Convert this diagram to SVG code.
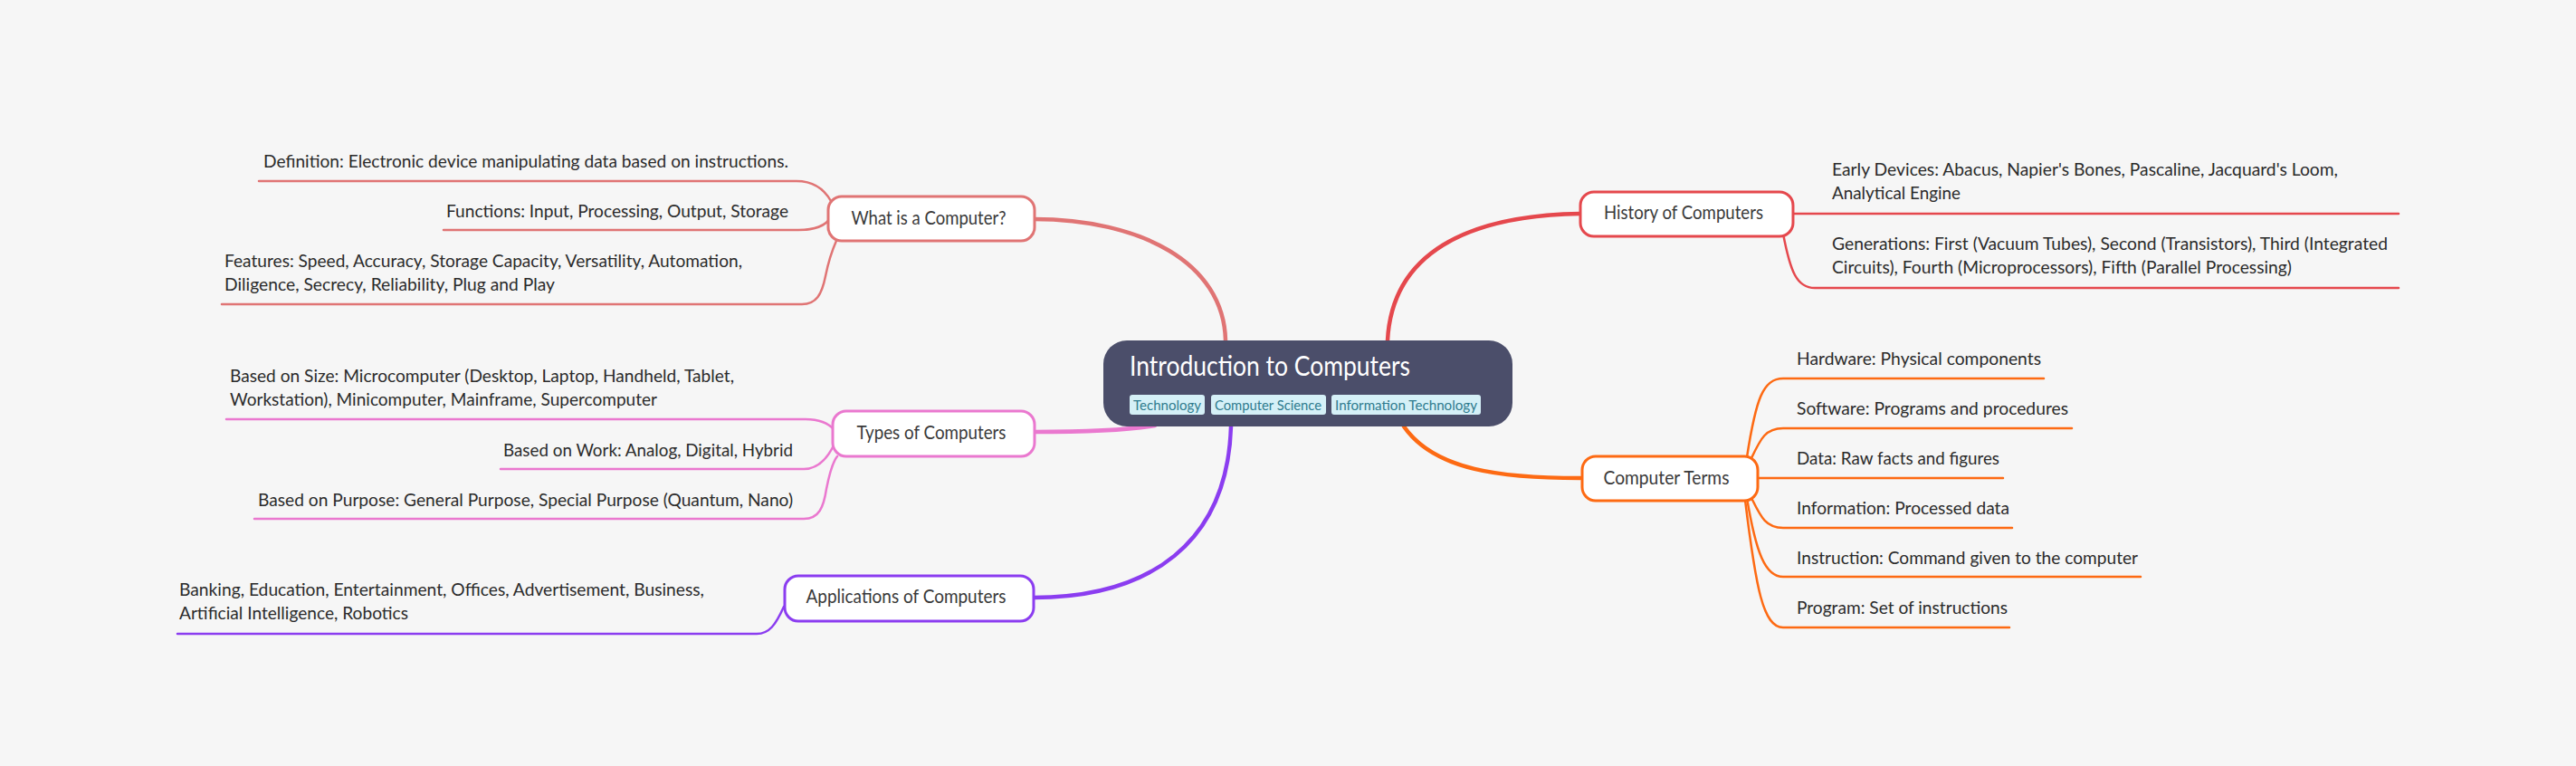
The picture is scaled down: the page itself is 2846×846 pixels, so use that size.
<svg xmlns="http://www.w3.org/2000/svg" width="2846" height="846" viewBox="0 0 2846 846">
<style>
text{font-family:"Lato","Liberation Sans",sans-serif}
.bg{fill:#f6f6f6}
.node{fill:#ffffff;stroke-width:3}
.nl{font-size:20.5px;fill:#3a3a3a;text-anchor:middle}
.ct{font-size:19px;fill:#2b2b2b}
.ln{fill:none;stroke-width:2.5;stroke-linecap:round}
.br{fill:none;stroke-width:4.5;stroke-linecap:round}
.tag{fill:#d5f0f7}
.tt{font-size:15.5px;fill:#2e7b8e}
.c1{stroke:#e07474}.c2{stroke:#ea78cf}.c3{stroke:#8b3df0}.c4{stroke:#e5484d}.c5{stroke:#fd6a13}
</style>
<rect class="bg" x="0" y="0" width="2846" height="846"/>
<g id="connectors">
<path class="br c1" d="M1142,242 C1260,242 1352,290 1354,376"/>
<path class="br c2" d="M1142,477 C1200,477 1245,475 1276,470"/>
<path class="br c3" d="M1360,471 C1356,600 1270,660 1142,660"/>
<path class="br c4" d="M1746,236 C1620,238 1538,280 1533,376"/>
<path class="br c5" d="M1551,471 C1585,520 1660,528 1746,528"/>
<path class="ln c1" d="M286,200 H880 C898,200 910,208 918,222"/>
<path class="ln c1" d="M490,254 H882 C900,254 912,250 918,240"/>
<path class="ln c1" d="M245,336 H886 C902,336 908,325 912,305 C916,285 920,275 924,266"/>
<path class="ln c2" d="M250,463 H890 C905,463 915,467 922,475"/>
<path class="ln c2" d="M553,518 H888 C905,518 915,505 922,490"/>
<path class="ln c2" d="M281,573 H888 C905,573 910,560 913,540 C917,520 920,510 925,504"/>
<path class="ln c3" d="M196,700 H836 C850,700 857,690 866,670"/>
<path class="ln c4" d="M1981,236 H2650"/>
<path class="ln c4" d="M1970,258 C1978,300 1985,318 2005,318 H2650"/>
<path class="ln c5" d="M1930,505 C1940,440 1948,418 1970,418 H2258"/>
<path class="ln c5" d="M1934,508 C1945,485 1950,473 1970,473 H2289"/>
<path class="ln c5" d="M1942,528 H2213"/>
<path class="ln c5" d="M1934,548 C1945,570 1950,583 1970,583 H2223"/>
<path class="ln c5" d="M1930,550 C1940,610 1950,637 1970,637 H2365"/>
<path class="ln c5" d="M1928,552 C1940,650 1948,693 1970,693 H2220"/>
</g>
<g id="central">
<rect x="1219" y="376" width="452" height="95" rx="26" fill="#4b4e6a"/>
<text x="1248" y="415" font-size="31" fill="#ffffff" textLength="310" lengthAdjust="spacingAndGlyphs">Introduction to Computers</text>
<rect class="tag" x="1248" y="436" width="83" height="22" rx="3"/>
<text class="tt" x="1252" y="453" textLength="75" lengthAdjust="spacingAndGlyphs">Technology</text>
<rect class="tag" x="1338" y="436" width="127" height="22" rx="3"/>
<text class="tt" x="1342" y="453" textLength="118" lengthAdjust="spacingAndGlyphs">Computer Science</text>
<rect class="tag" x="1471" y="436" width="165" height="22" rx="3"/>
<text class="tt" x="1475" y="453" textLength="157" lengthAdjust="spacingAndGlyphs">Information Technology</text>
</g>
<g id="what">
<rect class="node c1" x="915" y="217" width="228" height="49" rx="15"/>
<text class="nl" x="1026" y="248" textLength="171" lengthAdjust="spacingAndGlyphs">What is a Computer?</text>
</g>
<g id="what-definition"><text class="ct" x="291" y="185" textLength="580" lengthAdjust="spacingAndGlyphs">Definition: Electronic device manipulating data based on instructions.</text></g>
<g id="what-functions"><text class="ct" x="493" y="240" textLength="378" lengthAdjust="spacingAndGlyphs">Functions: Input, Processing, Output, Storage</text></g>
<g id="what-features"><text class="ct" x="248" y="295" textLength="572" lengthAdjust="spacingAndGlyphs">Features: Speed, Accuracy, Storage Capacity, Versatility, Automation,</text><text class="ct" x="248" y="321" textLength="365" lengthAdjust="spacingAndGlyphs">Diligence, Secrecy, Reliability, Plug and Play</text></g>
<g id="types">
<rect class="node c2" x="920" y="454" width="223" height="50" rx="15"/>
<text class="nl" x="1029" y="485" textLength="165" lengthAdjust="spacingAndGlyphs">Types of Computers</text>
</g>
<g id="types-size"><text class="ct" x="254" y="422" textLength="557" lengthAdjust="spacingAndGlyphs">Based on Size: Microcomputer (Desktop, Laptop, Handheld, Tablet,</text><text class="ct" x="254" y="448" textLength="472" lengthAdjust="spacingAndGlyphs">Workstation), Minicomputer, Mainframe, Supercomputer</text></g>
<g id="types-work"><text class="ct" x="556" y="504" textLength="320" lengthAdjust="spacingAndGlyphs">Based on Work: Analog, Digital, Hybrid</text></g>
<g id="types-purpose"><text class="ct" x="285" y="559" textLength="591" lengthAdjust="spacingAndGlyphs">Based on Purpose: General Purpose, Special Purpose (Quantum, Nano)</text></g>
<g id="apps">
<rect class="node c3" x="867" y="636" width="275" height="50" rx="15"/>
<text class="nl" x="1001" y="666" textLength="221" lengthAdjust="spacingAndGlyphs">Applications of Computers</text>
</g>
<g id="apps-list"><text class="ct" x="198" y="658" textLength="580" lengthAdjust="spacingAndGlyphs">Banking, Education, Entertainment, Offices, Advertisement, Business,</text><text class="ct" x="198" y="684" textLength="253" lengthAdjust="spacingAndGlyphs">Artificial Intelligence, Robotics</text></g>
<g id="history">
<rect class="node c4" x="1746" y="212" width="235" height="49" rx="15"/>
<text class="nl" x="1860" y="242" textLength="176" lengthAdjust="spacingAndGlyphs">History of Computers</text>
</g>
<g id="history-early"><text class="ct" x="2024" y="194" textLength="559" lengthAdjust="spacingAndGlyphs">Early Devices: Abacus, Napier's Bones, Pascaline, Jacquard's Loom,</text><text class="ct" x="2024" y="220" textLength="142" lengthAdjust="spacingAndGlyphs">Analytical Engine</text></g>
<g id="history-generations"><text class="ct" x="2024" y="276" textLength="614" lengthAdjust="spacingAndGlyphs">Generations: First (Vacuum Tubes), Second (Transistors), Third (Integrated</text><text class="ct" x="2024" y="302" textLength="508" lengthAdjust="spacingAndGlyphs">Circuits), Fourth (Microprocessors), Fifth (Parallel Processing)</text></g>
<g id="terms">
<rect class="node c5" x="1748" y="504" width="194" height="49" rx="15"/>
<text class="nl" x="1841" y="535" textLength="139" lengthAdjust="spacingAndGlyphs">Computer Terms</text>
</g>
<g id="terms-hardware"><text class="ct" x="1985" y="403" textLength="270" lengthAdjust="spacingAndGlyphs">Hardware: Physical components</text></g>
<g id="terms-software"><text class="ct" x="1985" y="458" textLength="300" lengthAdjust="spacingAndGlyphs">Software: Programs and procedures</text></g>
<g id="terms-data"><text class="ct" x="1985" y="513" textLength="224" lengthAdjust="spacingAndGlyphs">Data: Raw facts and figures</text></g>
<g id="terms-information"><text class="ct" x="1985" y="568" textLength="235" lengthAdjust="spacingAndGlyphs">Information: Processed data</text></g>
<g id="terms-instruction"><text class="ct" x="1985" y="623" textLength="377" lengthAdjust="spacingAndGlyphs">Instruction: Command given to the computer</text></g>
<g id="terms-program"><text class="ct" x="1985" y="678" textLength="233" lengthAdjust="spacingAndGlyphs">Program: Set of instructions</text></g>
</svg>
